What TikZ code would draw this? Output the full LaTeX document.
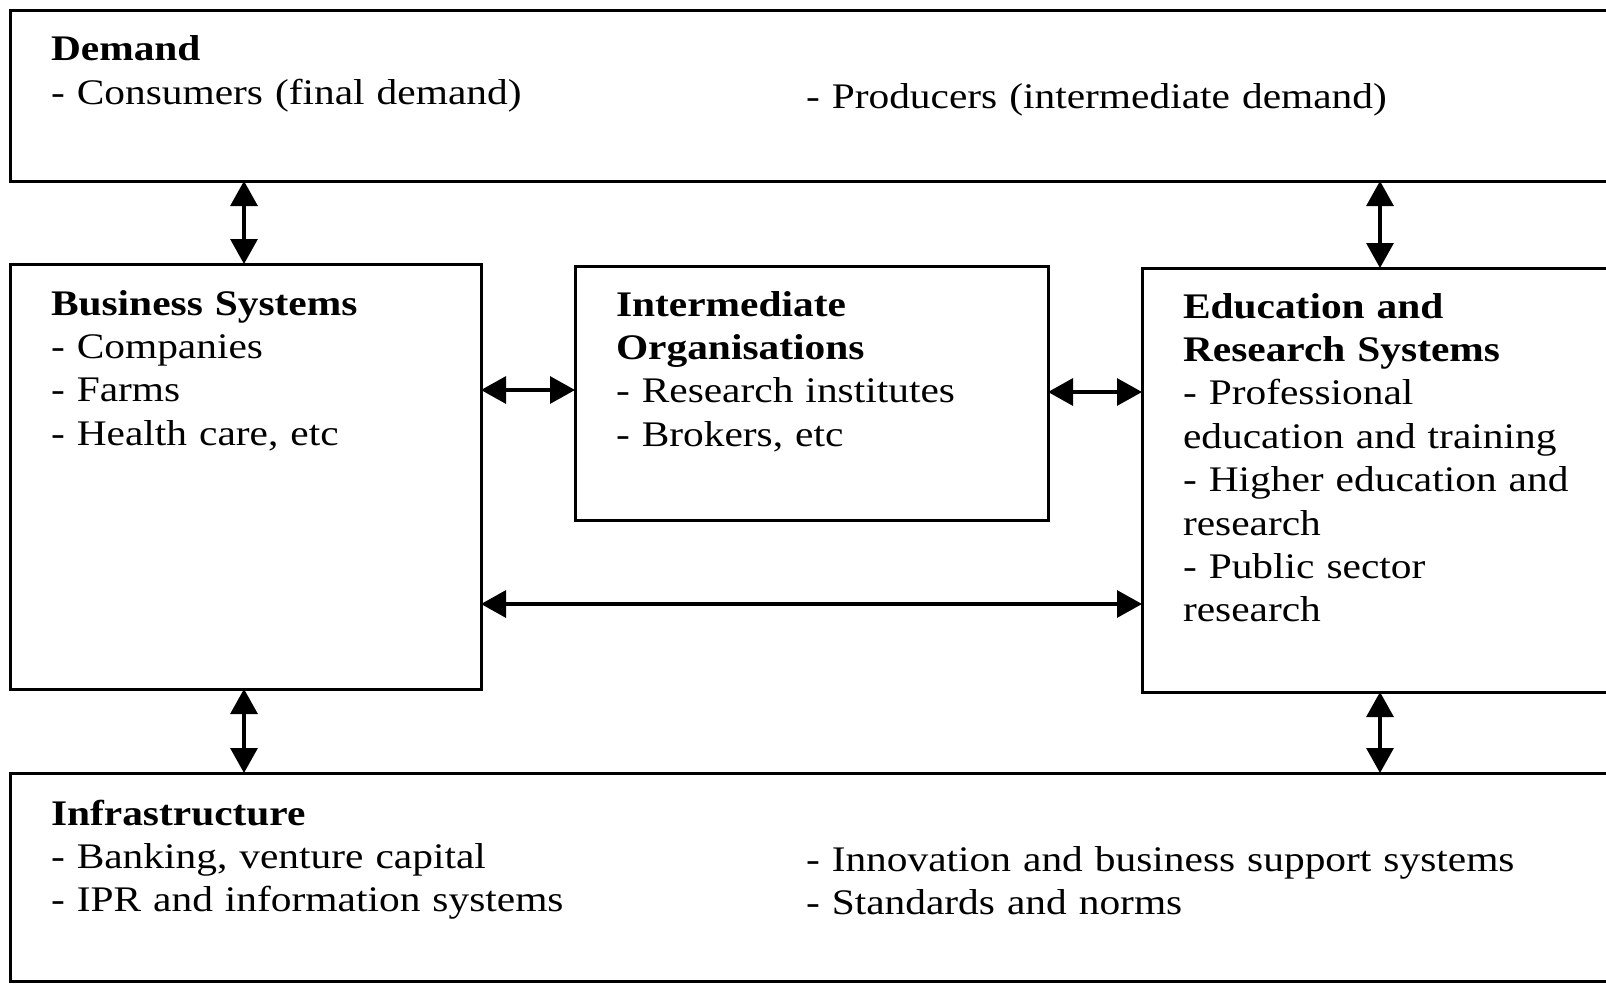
\documentclass[tikz,border=0pt]{standalone}
\usepackage{fontspec}
\setmainfont[FakeStretch=1.15]{Liberation Serif}
\usetikzlibrary{arrows.meta}
\begin{document}
\begin{tikzpicture}[x=0.5pt,y=-0.5pt,
  box/.style={draw, line width=1.5pt, rectangle, inner sep=0pt, outer sep=0pt, anchor=north west},
  txt/.style={anchor=base west, inner sep=0pt, outer sep=0pt, align=left, text width=#1, font=\fontsize{18}{21.7}\selectfont},
  txt/.default=300pt,
  link/.style={line width=1.6pt, {Triangle[length=12.5pt,width=13.5pt]}-{Triangle[length=12.5pt,width=13.5pt]}}
]
\useasboundingbox (0,0) rectangle (1606,985);
\clip (0,0) rectangle (1606,985);
% boxes
\node[box, minimum width=820pt, minimum height=85.5pt] (demand) at (10,10) {};
\node[box, minimum width=235.5pt, minimum height=212.5pt] (business) at (10,264) {};
\node[box, minimum width=236.5pt, minimum height=127pt] (inter) at (575,266) {};
\node[box, minimum width=254pt, minimum height=212pt] (edu) at (1142,268) {};
\node[box, minimum width=820pt, minimum height=104pt] (infra) at (10,773) {};
% texts
\node[txt=300pt] (demandtxt) at (51,61) {\textbf{Demand}\\- Consumers (final demand)};
\node[txt=400pt] (producers) at (806,108) {- Producers (intermediate demand)};
\node[txt=250pt] (businesstxt) at (51,315) {\textbf{Business Systems}\\- Companies\\- Farms\\- Health care, etc};
\node[txt=230pt] (intertxt) at (616,316) {\textbf{Intermediate}\\\textbf{Organisations}\\- Research institutes\\- Brokers, etc};
\node[txt=250pt] (edutxt) at (1183,318) {\textbf{Education and}\\\textbf{Research Systems}\\- Professional\\education and training\\- Higher education and\\research\\- Public sector\\research};
\node[txt=300pt] (infratxt) at (51,825) {\textbf{Infrastructure}\\- Banking, venture capital\\- IPR and information systems};
\node[txt=400pt] (infratxt2) at (806,871) {- Innovation and business support systems\\- Standards and norms};
% connectors
\coordinate (cl) at (244,0);
\coordinate (cr) at (1380,0);
\coordinate (r1) at (0,390);
\coordinate (r2) at (0,392);
\coordinate (r3) at (0,604);
\draw[link] (cl |- demand.south) -- (cl |- business.north);
\draw[link] (cr |- demand.south) -- (cr |- edu.north);
\draw[link] (cl |- business.south) -- (cl |- infra.north);
\draw[link] (cr |- edu.south) -- (cr |- infra.north);
\draw[link] (business.east |- r1) -- (inter.west |- r1);
\draw[link] (inter.east |- r2) -- (edu.west |- r2);
\draw[link] (business.east |- r3) -- (edu.west |- r3);
\end{tikzpicture}
\end{document}
